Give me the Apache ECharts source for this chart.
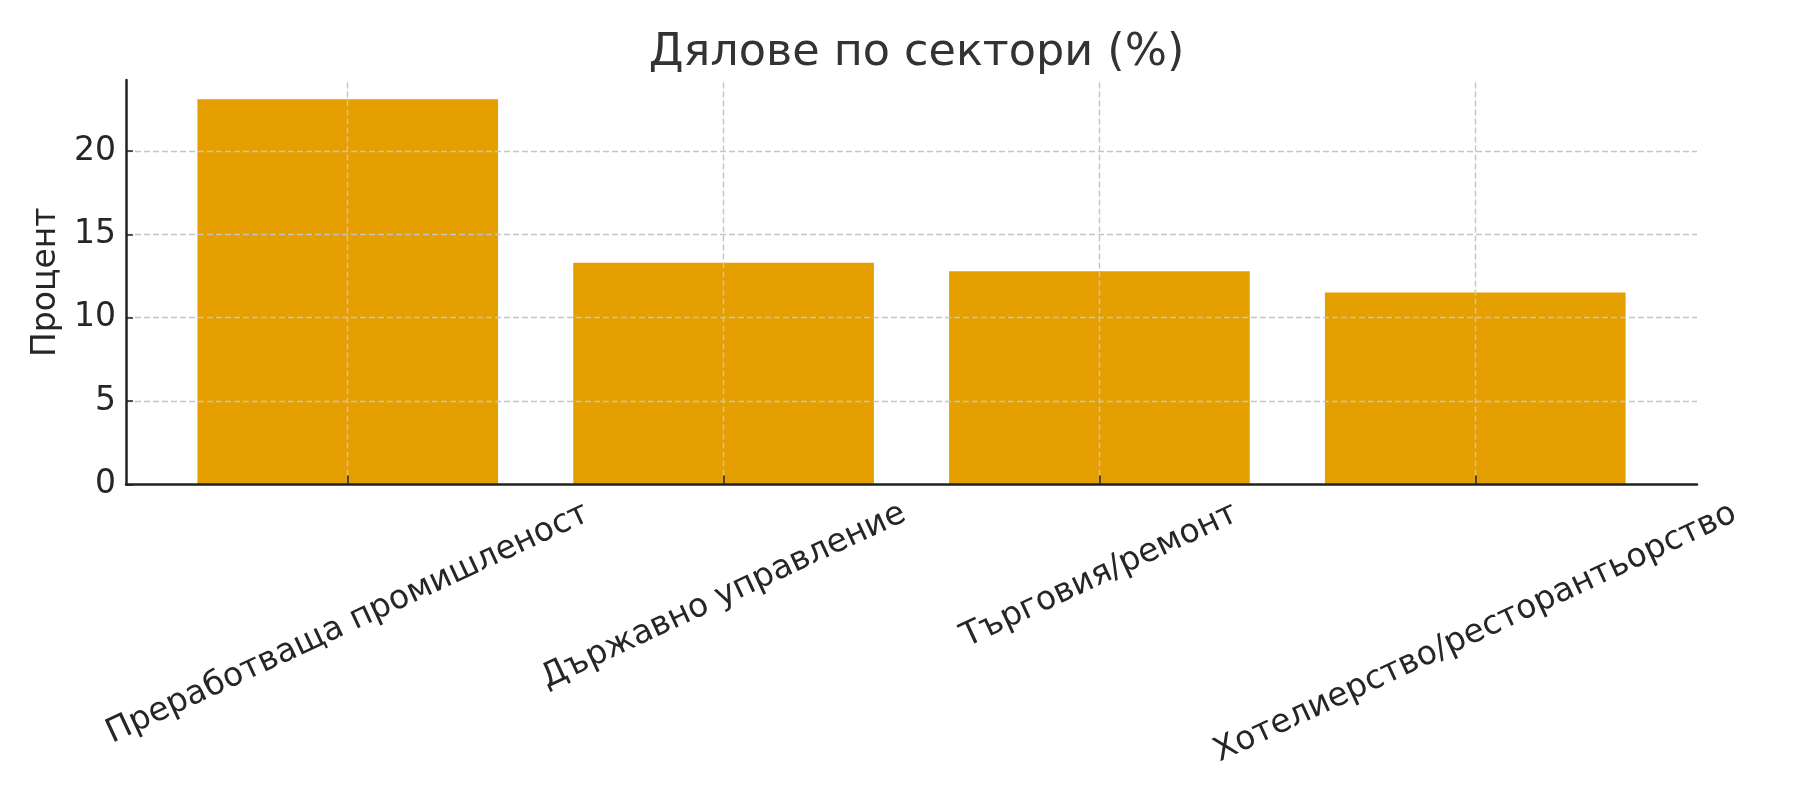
<!DOCTYPE html>
<html>
<head>
<meta charset="utf-8">
<script src="https://cdn.jsdelivr.net/npm/echarts@6/dist/echarts.min.js"></script>
<style>html,body{margin:0;padding:0;background:#fff}#c{width:1800px;height:800px}</style>
</head>
<body>
<div id="c"></div>
<script>
// ---- data ----
const titleText = 'Дялове по сектори (%)';
const yName = 'Процент';
const categories = ['Преработваща промишленост', 'Държавно управление', 'Търговия/ремонт', 'Хотелиерство/ресторантьорство'];
const values = [23.1, 13.3, 12.78, 11.52];
const yTicks = [0, 5, 10, 15, 20];

// ---- layout ----
const FONT = '"DejaVu Sans", sans-serif';
const W = 1800, H = 800;
const gridLeft = 126, gridRight = 103, gridTop = 80, gridBottom = 315.5;
const xMin = -0.59, xMax = categories.length - 1 + 0.59;
const yMax = Math.max(...values) * 1.05;
const plotW = W - gridLeft - gridRight;
const barW = 0.8 * plotW / (xMax - xMin);
const labelSize = 33;
const theta = 25 * Math.PI / 180;

const cv = document.createElement('canvas').getContext('2d');
cv.font = labelSize + 'px ' + FONT;
const rich = {};
categories.forEach((c, i) => {
  const L = cv.measureText(c).width;
  rich['r' + i] = {
    fontSize: labelSize, fontFamily: FONT, color: '#262626',
    padding: [L * Math.sin(theta) * Math.cos(theta), L * Math.sin(theta) * Math.sin(theta), 0, 0]
  };
});

const xIdx = categories.map((_, i) => i);
const chart = echarts.init(document.getElementById('c'), null, {renderer: 'canvas'});
chart.setOption({
  animation: false,
  backgroundColor: '#fff',
  title: {
    text: titleText, left: gridLeft + plotW / 2, textAlign: 'center', top: 26,
    textStyle: {fontFamily: FONT, fontSize: 44.5, fontWeight: 'normal', color: '#333'}
  },
  grid: {left: gridLeft, right: gridRight, top: gridTop, bottom: gridBottom, containLabel: false, outerBoundsMode: 'none'},
  xAxis: {
    type: 'value', min: xMin, max: xMax, z: 6,
    axisLine: {show: true, onZero: false, lineStyle: {color: '#222', width: 2.5}},
    axisTick: {show: true, inside: true, length: 9, customValues: xIdx, lineStyle: {color: '#222', width: 1.5}},
    splitLine: {show: false},
    axisLabel: {
      customValues: xIdx, rotate: 25, align: 'center', verticalAlign: 'middle', margin: 27.5,
      formatter: v => '{r' + Math.round(v) + '|' + categories[Math.round(v)] + '}',
      rich: rich, fontSize: labelSize, fontFamily: FONT, color: '#262626'
    }
  },
  yAxis: {
    type: 'value', min: 0, max: yMax, interval: 5, z: 6,
    name: yName, nameLocation: 'middle', nameGap: 59,
    nameTextStyle: {fontFamily: FONT, fontSize: labelSize, color: '#262626'},
    axisLine: {show: true, onZero: false, lineStyle: {color: '#222', width: 2.5}},
    axisTick: {show: true, inside: true, length: 7, customValues: yTicks, lineStyle: {color: '#222', width: 1.5}},
    splitLine: {show: false},
    axisLabel: {customValues: yTicks, margin: 10, fontSize: labelSize, fontFamily: FONT, color: '#262626'}
  },
  series: [{
    type: 'bar', z: 2,
    barWidth: barW,
    itemStyle: {color: '#E69F00'},
    data: values.map((v, i) => [i, v]),
    markLine: {
      silent: true, symbol: 'none', z: 5, animation: false,
      label: {show: false},
      lineStyle: {type: [6, 3], color: '#c4c4c4', width: 1.4},
      data: xIdx.map(i => ({xAxis: i})).concat(yTicks.filter(t => t > 0).map(t => ({yAxis: t})))
    }
  }]
});
</script>
</body>
</html>
